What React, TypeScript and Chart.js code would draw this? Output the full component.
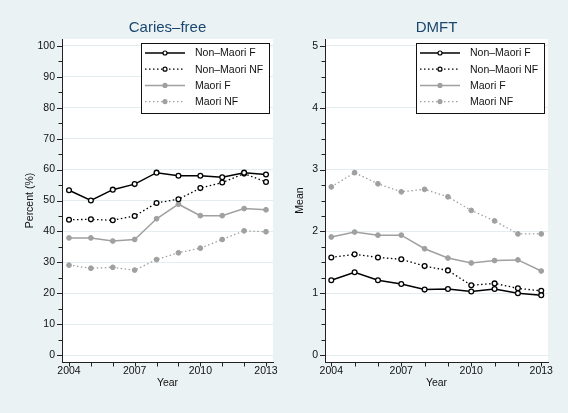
import React, { useEffect, useRef } from 'react';
import { Chart, registerables } from 'chart.js';

Chart.register(...registerables);

const years = [2004, 2005, 2006, 2007, 2008, 2009, 2010, 2011, 2012, 2013];
const yearLabels = [2004, 2007, 2010, 2013];
const seriesNames = ['Non–Maori F', 'Non–Maori NF', 'Maori F', 'Maori NF'];

const cariesNonMaoriF = [53.3, 50.0, 53.5, 55.3, 59.0, 58.0, 58.0, 57.5, 59.0, 58.4];
const cariesNonMaoriNF = [43.8, 43.9, 43.6, 45.0, 49.2, 50.4, 54.0, 55.8, 58.7, 56.0];
const cariesMaoriF = [37.9, 37.9, 36.9, 37.4, 44.1, 48.8, 45.1, 45.1, 47.4, 47.0];
const cariesMaoriNF = [29.1, 28.1, 28.4, 27.5, 30.9, 33.1, 34.6, 37.4, 40.2, 39.9];

const dmftNonMaoriF = [1.21, 1.34, 1.21, 1.15, 1.06, 1.07, 1.03, 1.07, 1.0, 0.97];
const dmftNonMaoriNF = [1.58, 1.63, 1.58, 1.55, 1.44, 1.37, 1.13, 1.16, 1.08, 1.04];
const dmftMaoriF = [1.91, 1.99, 1.94, 1.94, 1.72, 1.57, 1.49, 1.53, 1.54, 1.36];
const dmftMaoriNF = [2.72, 2.95, 2.77, 2.64, 2.68, 2.56, 2.34, 2.17, 1.96, 1.96];

const cariesTicks = [0, 10, 20, 30, 40, 50, 60, 70, 80, 90, 100];
const cariesMinorTicks = [5, 15, 25, 35, 45, 55, 65, 75, 85, 95];
const dmftTicks = [0, 1, 2, 3, 4, 5];
const dmftMinorTicks = [0.25, 0.5, 0.75, 1.25, 1.5, 1.75, 2.25, 2.5, 2.75, 3.25, 3.5, 3.75, 4.25, 4.5, 4.75];

const FONT = "'Liberation Sans', Arial, Helvetica, sans-serif";
const BG = '#EAF2F3';
const GREY = '#A0A0A0';
const TITLE_COLOR = '#1A476F';

const styles = [
  { color: '#000000', dash: [] as number[], fill: '#FFFFFF', width: 1.5 },
  { color: '#000000', dash: [1.5, 2.5], fill: '#FFFFFF', width: 1.3 },
  { color: GREY, dash: [] as number[], fill: GREY, width: 1.5 },
  { color: GREY, dash: [1.5, 2.5], fill: GREY, width: 1.3 },
];

type PanelProps = {
  title: string;
  yTitle: string;
  series: number[][];
  yMin: number;
  yMax: number;
  majorTicks: number[];
  minorTicks: number[];
  yWidth: number;
  padRight: number;
  yTitlePad: number;
  xMin: number;
  xMax: number;
};

function Panel(props: PanelProps) {
  const ref = useRef<HTMLCanvasElement>(null);
  useEffect(() => {
    const canvas = ref.current;
    if (!canvas) return;
    const panelPlugin = {
      id: 'panelDeco',
      beforeDraw(chart: any) {
        const { ctx, chartArea } = chart;
        ctx.save();
        ctx.fillStyle = '#FFFFFF';
        ctx.fillRect(chartArea.left, chartArea.top, chartArea.right - chartArea.left, chartArea.bottom - chartArea.top);
        ctx.restore();
      },
      afterDraw(chart: any) {
        const { ctx, chartArea } = chart;
        const xs = chart.scales.x;
        const ys = chart.scales.y;
        ctx.save();
        ctx.strokeStyle = '#222222';
        ctx.lineWidth = 1;
        props.majorTicks.forEach((v) => {
          const y = Math.round(ys.getPixelForValue(v)) + 0.5;
          ctx.beginPath();
          ctx.moveTo(chartArea.left - 5, y);
          ctx.lineTo(chartArea.left, y);
          ctx.stroke();
        });
        props.minorTicks.forEach((v) => {
          const y = Math.round(ys.getPixelForValue(v)) + 0.5;
          ctx.beginPath();
          ctx.moveTo(chartArea.left - 3.5, y);
          ctx.lineTo(chartArea.left, y);
          ctx.stroke();
        });
        years.forEach((v) => {
          const x = Math.round(xs.getPixelForValue(v)) + 0.5;
          ctx.beginPath();
          ctx.moveTo(x, chartArea.bottom);
          ctx.lineTo(x, chartArea.bottom + 4.5);
          ctx.stroke();
        });
        ctx.fillStyle = TITLE_COLOR;
        ctx.font = `15px ${FONT}`;
        ctx.textAlign = 'center';
        ctx.textBaseline = 'alphabetic';
        ctx.fillText(props.title, (chartArea.left + chartArea.right) / 2, 32);
        const bw = 128;
        const bh = 70;
        const bx = chartArea.right - 4 - bw;
        const by = chartArea.top + 3.5;
        ctx.fillStyle = '#FFFFFF';
        ctx.fillRect(bx, by, bw, bh);
        ctx.strokeStyle = '#111111';
        ctx.lineWidth = 1;
        ctx.strokeRect(Math.round(bx) + 0.5, Math.round(by) + 0.5, bw, bh);
        seriesNames.forEach((name, i) => {
          const st = styles[i];
          const cy = by + 10.5 + i * 16.2;
          ctx.beginPath();
          ctx.setLineDash(st.dash);
          ctx.strokeStyle = st.color;
          ctx.lineWidth = st.width;
          ctx.moveTo(bx + 4, cy);
          ctx.lineTo(bx + 44, cy);
          ctx.stroke();
          ctx.setLineDash([]);
          ctx.beginPath();
          ctx.arc(bx + 24, cy, 2, 0, Math.PI * 2);
          ctx.fillStyle = st.fill;
          ctx.fill();
          ctx.lineWidth = 1.2;
          ctx.strokeStyle = st.color;
          ctx.stroke();
          ctx.fillStyle = '#111111';
          ctx.font = `10.5px ${FONT}`;
          ctx.textAlign = 'left';
          ctx.textBaseline = 'middle';
          ctx.fillText(name, bx + 54, cy + 0.5);
        });
        ctx.restore();
      },
    };

    const datasets = props.series.map((vals, i) => {
      const st = styles[i];
      return {
        label: seriesNames[i],
        data: years.map((yr, j) => ({ x: yr, y: vals[j] })),
        borderColor: st.color,
        borderWidth: st.width,
        borderDash: st.dash,
        pointRadius: 2.4,
        pointBorderWidth: i < 2 ? 1.3 : 1,
        pointBackgroundColor: st.fill,
        pointBorderColor: st.color,
        pointStyle: 'circle',
        tension: 0,
        fill: false,
      };
    });

    const chart = new Chart(canvas, {
      type: 'line',
      data: { datasets },
      options: {
        responsive: false,
        animation: false,
        devicePixelRatio: 1,
        layout: { padding: { left: 0, right: props.padRight, top: 39, bottom: 0 } },
        plugins: {
          legend: { display: false },
          tooltip: { enabled: false },
          title: { display: false },
        },
        scales: {
          x: {
            type: 'linear',
            min: props.xMin,
            max: props.xMax,
            afterBuildTicks: (scale: any) => {
              scale.ticks = years.map((v) => ({ value: v }));
            },
            afterFit: (scale: any) => {
              scale.height = 51;
            },
            ticks: {
              autoSkip: false,
              maxRotation: 0,
              minRotation: 0,
              padding: 3,
              color: '#111111',
              font: { family: FONT, size: 10.5 },
              callback: (v: any) => (yearLabels.includes(Number(v)) ? String(v) : ''),
            },
            grid: { display: false, drawTicks: false },
            border: { display: true, color: '#222222', width: 1 },
            title: {
              display: true,
              text: 'Year',
              color: '#111111',
              font: { family: FONT, size: 10.5, lineHeight: 1.2 },
              padding: { top: 0, bottom: 23.7 },
            },
          },
          y: {
            type: 'linear',
            min: props.yMin,
            max: props.yMax,
            afterBuildTicks: (scale: any) => {
              scale.ticks = props.majorTicks.map((v) => ({ value: v }));
            },
            afterFit: (scale: any) => {
              scale.width = props.yWidth;
            },
            ticks: {
              autoSkip: false,
              padding: 7,
              color: '#111111',
              font: { family: FONT, size: 10.5 },
              callback: (v: any) => String(v),
            },
            grid: { display: true, drawTicks: false, color: '#E3EDEF', lineWidth: 1 },
            border: { display: true, color: '#222222', width: 1 },
            title: {
              display: true,
              text: props.yTitle,
              color: '#111111',
              font: { family: FONT, size: 10.5, lineHeight: 1.2 },
              padding: { top: props.yTitlePad, bottom: 0 },
            },
          },
        },
      },
      plugins: [panelPlugin],
    } as any);
    return () => chart.destroy();
  }, []);
  return <canvas ref={ref} width={284} height={413} style={{ width: 284, height: 413, display: 'block' }} />;
}

export default function App() {
  return (
    <div style={{ position: 'fixed', left: 0, top: 0, width: 568, height: 413, background: BG, overflow: 'hidden' }}>
      <div style={{ position: 'absolute', left: 0, top: 0 }}>
        <Panel
          title="Caries–free"
          yTitle="Percent (%)"
          series={[cariesNonMaoriF, cariesNonMaoriNF, cariesMaoriF, cariesMaoriNF]}
          yMin={-2.2}
          yMax={102.2}
          majorTicks={cariesTicks}
          minorTicks={cariesMinorTicks}
          yWidth={62}
          padRight={11}
          yTitlePad={23.7}
          xMin={2003.68}
          xMax={2013.32}
        />
      </div>
      <div style={{ position: 'absolute', left: 284, top: 0 }}>
        <Panel
          title="DMFT"
          yTitle="Mean"
          series={[dmftNonMaoriF, dmftNonMaoriNF, dmftMaoriF, dmftMaoriNF]}
          yMin={-0.11}
          yMax={5.11}
          majorTicks={dmftTicks}
          minorTicks={dmftMinorTicks}
          yWidth={41}
          padRight={20}
          yTitlePad={9.7}
          xMin={2003.73}
          xMax={2013.29}
        />
      </div>
    </div>
  );
}
